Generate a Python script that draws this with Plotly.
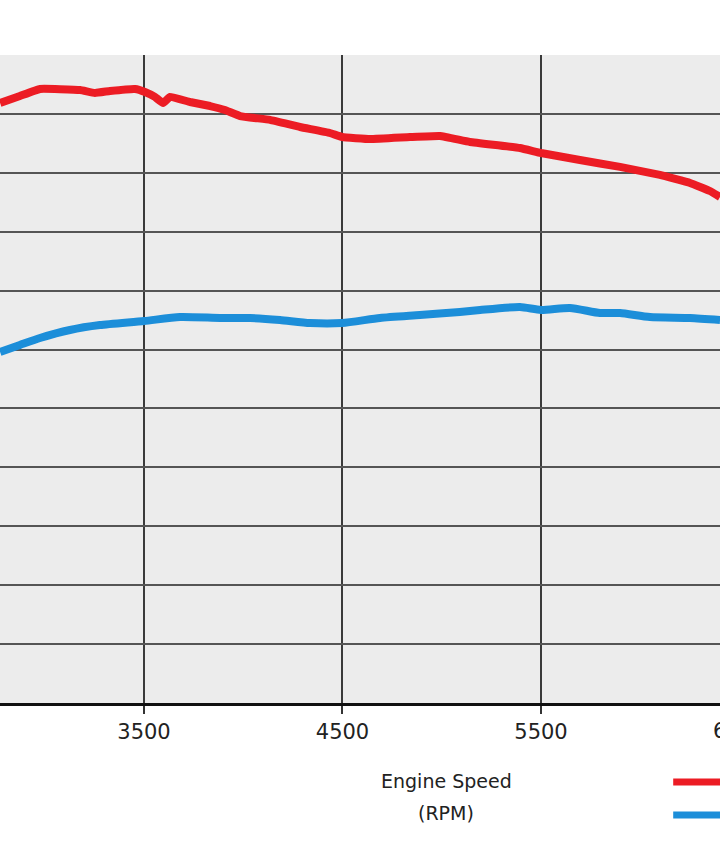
import plotly.graph_objects as go

# ---- data ----
torque_rpm = [2775, 2875, 2976, 3178, 3253, 3329, 3455, 3505, 3555, 3596, 3631,
              3732, 3833, 3908, 3984, 4135, 4286, 4437, 4498, 4639, 4840, 4991,
              5142, 5394, 5500, 5696, 5898, 6099, 6251, 6351, 6402]
torque_val = [509.3, 515.2, 521.2, 520.3, 517.8, 519.5, 521.2, 518.6, 514.4, 509.3, 514.4,
              510.1, 506.7, 503.3, 498.2, 494.9, 488.9, 483.8, 480.4, 478.7, 480.4, 481.3,
              476.2, 471.1, 466.8, 460.9, 455.0, 448.2, 441.4, 434.6, 429.5]

power_rpm = [2775, 2875, 2976, 3127, 3278, 3500, 3681, 3883, 4034, 4185, 4336, 4498,
             4689, 4890, 5091, 5193, 5394, 5500, 5646, 5797, 5898, 6049, 6251, 6402]
power_val = [297.9, 303.9, 309.8, 316.6, 320.8, 324.2, 327.6, 326.8, 326.8, 325.1, 322.5, 322.5,
             326.8, 329.3, 331.9, 333.6, 336.1, 333.6, 335.3, 331.0, 331.0, 327.6, 326.8, 325.1]

x_tick_vals = [3500, 4500, 5500]
x_tick_text = ["3500", "4500", "5500"]
cut_tick_val = 6500
cut_tick_text = "6500"

series_names = ["Torque", "Horsepower"]
RED = "#ec1c24"
BLUE = "#1c8ed9"

X_RANGE = [2774.6, 6401.8]
Y_RANGE = [0, 550]

fig = go.Figure()
fig.add_trace(go.Scatter(x=power_rpm, y=power_val, mode="lines", name=series_names[1],
                         line=dict(color=BLUE, width=8, shape="spline", smoothing=0.6),
                         showlegend=False))
fig.add_trace(go.Scatter(x=torque_rpm, y=torque_val, mode="lines", name=series_names[0],
                         line=dict(color=RED, width=8, shape="spline", smoothing=0.3),
                         showlegend=False))

FONT = "DejaVu Sans"

fig.update_layout(
    width=720, height=845,
    margin=dict(l=0, r=0, t=55, b=142, autoexpand=False),
    paper_bgcolor="white",
    plot_bgcolor="#ececec",
    font=dict(family=FONT, color="#222222"),
    xaxis=dict(range=X_RANGE, tickvals=x_tick_vals, ticktext=x_tick_text,
               showgrid=True, gridcolor="#3a3a3a", gridwidth=2,
               showline=True, linecolor="#111111", linewidth=3,
               ticks="outside", ticklen=8, tickwidth=2, tickcolor="#333333",
               tickfont=dict(family=FONT, size=21, color="#222222"),
               zeroline=False),
    yaxis=dict(range=Y_RANGE, dtick=50, showgrid=True, gridcolor="#555555", gridwidth=2,
               showticklabels=False, zeroline=False, showline=False),
)

# partially visible tick label at the right edge
fig.add_annotation(xref="paper", yref="paper",
                   x=(cut_tick_val - X_RANGE[0]) / (X_RANGE[1] - X_RANGE[0]), y=0,
                   xanchor="center", yanchor="top", yshift=-14, showarrow=False,
                   text=cut_tick_text, font=dict(family=FONT, size=21, color="#222222"))

# axis title
fig.add_annotation(xref="paper", yref="paper", x=0.62, y=0, yshift=-78,
                   xanchor="center", yanchor="middle", showarrow=False,
                   text="Engine Speed", font=dict(family=FONT, size=19, color="#222222"))
fig.add_annotation(xref="paper", yref="paper", x=0.62, y=0, yshift=-110,
                   xanchor="center", yanchor="middle", showarrow=False,
                   text="(RPM)", font=dict(family=FONT, size=19, color="#222222"))

# legend swatches (labels fall outside the visible area)
for i, col in enumerate([RED, BLUE]):
    yy = -(79 + 33 * i) / 648
    fig.add_shape(type="line", xref="paper", yref="paper", x0=0.935, x1=1.05,
                  y0=yy, y1=yy, line=dict(color=col, width=7))

fig.write_html("out.html", config={"displayModeBar": False},
               post_script="document.body.style.margin='0';document.body.style.overflow='hidden';")
